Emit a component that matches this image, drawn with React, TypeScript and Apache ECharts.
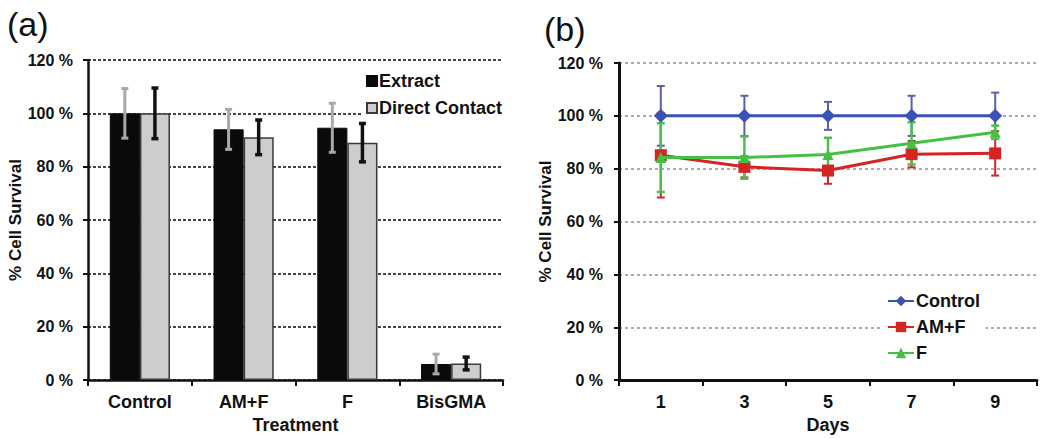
import React, { useEffect, useRef } from "react";
import * as echarts from "echarts";

// Panel (a)
const treatments = ["Control", "AM+F", "F", "BisGMA"];
const extractValues = [100, 94, 94.6, 6];
const extractErrors = [9.3, 7.5, 9.2, 3.7];
const directValues = [100, 91, 89, 6.2];
const directErrors = [9.5, 6.5, 7.2, 2.4];

// Panel (b)
const days = ["1", "3", "5", "7", "9"];
const controlValues = [100, 100, 100, 100, 100];
const controlErrors = [11.3, 7.6, 5.3, 7.6, 8.8];
const amfValues = [85.1, 80.7, 79.3, 85.5, 85.8];
const amfErrors = [16, 4, 5, 5, 8.4];
const fValues = [84.2, 84.2, 85.4, 89.6, 93.8];
const fErrors = [13, 8, 6.3, 8, 2.5];

const yTicks = [0, 20, 40, 60, 80, 100, 120];

const FONT = "Arial, 'Liberation Sans', sans-serif";

function errorSeries(
  name: string,
  xAxisIndex: number,
  yAxisIndex: number,
  values: number[],
  errors: number[],
  color: string,
  width: number,
  offsetFrac: number,
  capHalf: number
) {
  return {
    type: "custom",
    name,
    xAxisIndex,
    yAxisIndex,
    z: 3,
    silent: true,
    data: values.map((v, i) => [i, v, errors[i]]),
    renderItem: (params: any, api: any) => {
      const x = api.value(0);
      const v = api.value(1);
      const e = api.value(2);
      const band = api.size([1, 0])[0];
      const off = band * offsetFrac;
      const top = api.coord([x, v + e]);
      const bot = api.coord([x, v - e]);
      const cx = top[0] + off;
      const style = { stroke: color, lineWidth: width };
      return {
        type: "group",
        children: [
          { type: "line", shape: { x1: cx, y1: top[1], x2: cx, y2: bot[1] }, style },
          { type: "line", shape: { x1: cx - capHalf, y1: top[1], x2: cx + capHalf, y2: top[1] }, style },
          { type: "line", shape: { x1: cx - capHalf, y1: bot[1], x2: cx + capHalf, y2: bot[1] }, style },
        ],
      };
    },
  };
}

export default function App() {
  const ref = useRef<HTMLDivElement>(null);
  useEffect(() => {
    if (!ref.current) return;
    const chart = echarts.init(ref.current, null, { renderer: "svg" });

    const yAxisCommon = (gridIndex: number, gridColor: string, gridType: any, lineW: number, labelMargin: number, nameGap: number) => ({
      type: "value",
      gridIndex,
      min: 0,
      max: 120,
      interval: 20,
      name: "% Cell Survival",
      nameLocation: "middle",
      nameGap,
      nameTextStyle: { fontSize: 17, fontWeight: "bold", color: "#111", fontFamily: FONT },
      axisLine: { show: true, lineStyle: { color: "#111", width: lineW } },
      axisTick: { show: true, length: 5, lineStyle: { color: "#111", width: 2 } },
      axisLabel: {
        margin: labelMargin,
        fontSize: 16,
        fontWeight: "bold",
        color: "#111",
        fontFamily: FONT,
        formatter: (v: number) => (yTicks.includes(v) ? `${v} %` : ""),
      },
      splitLine: { show: true, lineStyle: { color: gridColor, width: 2, type: gridType } },
    });

    const xAxisCommon = (gridIndex: number, data: string[], name: string, nameGap: number, lineW: number) => ({
      type: "category",
      gridIndex,
      data,
      name,
      nameLocation: "middle",
      nameGap,
      nameTextStyle: { fontSize: 18, fontWeight: "bold", color: "#111", fontFamily: FONT },
      axisLine: { show: true, lineStyle: { color: "#111", width: lineW } },
      axisTick: { show: true, length: 6, lineStyle: { color: "#111", width: 2 } },
      axisLabel: { margin: 13, fontSize: 18, fontWeight: "bold", color: "#111", fontFamily: FONT },
      splitLine: { show: false },
    });

    const option: any = {
      animation: false,
      backgroundColor: "#ffffff",
      textStyle: { fontFamily: FONT },
      title: [
        { text: "(a)", left: 2, top: 2, textStyle: { fontSize: 34, fontWeight: "normal", color: "#111", fontFamily: FONT } },
        { text: "(b)", left: 539, top: 7, textStyle: { fontSize: 34, fontWeight: "normal", color: "#111", fontFamily: FONT } },
      ],
      grid: [
        { left: 88, top: 60, width: 415, height: 320 },
        { left: 619, top: 63, width: 418, height: 320 },
      ],
      xAxis: [xAxisCommon(0, treatments, "Treatment", 32, 2.5), xAxisCommon(1, days, "Days", 30, 3)],
      yAxis: [
        yAxisCommon(0, "#444", [3, 2], 2.5, 15, 64),
        yAxisCommon(1, "#b9a6a6", [3, 3], 3, 16, 62),
      ],
      legend: [
        {
          data: ["Extract", "Direct Contact"],
          orient: "vertical",
          left: 362,
          top: 70,
          padding: [2, 2, 2, 4],
          backgroundColor: "#ffffff",
          icon: "rect",
          itemWidth: 10,
          itemHeight: 10,
          itemGap: 9,
          textStyle: { fontSize: 18, fontWeight: "bold", color: "#111", fontFamily: FONT, padding: [0, 0, 0, -3] },
        },
        {
          data: ["Control", "AM+F", "F"],
          orient: "vertical",
          left: 883,
          top: 291,
          padding: [1, 6, 1, 4],
          backgroundColor: "#ffffff",
          itemWidth: 26,
          itemHeight: 13,
          itemGap: 8,
          textStyle: { fontSize: 18, fontWeight: "bold", color: "#111", fontFamily: FONT, padding: [0, 0, 0, -3] },
        },
      ],
      series: [
        {
          type: "bar",
          name: "Extract",
          xAxisIndex: 0,
          yAxisIndex: 0,
          data: extractValues,
          barGap: "0%",
          barCategoryGap: "42%",
          itemStyle: { color: "#0a0a0a", borderColor: "#0a0a0a", borderWidth: 1 },
          z: 2,
        },
        {
          type: "bar",
          name: "Direct Contact",
          xAxisIndex: 0,
          yAxisIndex: 0,
          data: directValues,
          barGap: "0%",
          barCategoryGap: "42%",
          itemStyle: { color: "#cdcdcd", borderColor: "#3a3a3a", borderWidth: 1.5 },
          z: 2,
        },
        errorSeries("extractErr", 0, 0, extractValues, extractErrors, "#a9a9a9", 3, -0.145, 3.5),
        errorSeries("directErr", 0, 0, directValues, directErrors, "#111111", 3.5, 0.145, 3.5),
        errorSeries("controlErr", 1, 1, controlValues, controlErrors, "#5b5fae", 2, 0, 4),
        errorSeries("amfErr", 1, 1, amfValues, amfErrors, "#cc2b2b", 2, 0, 4),
        errorSeries("fErr", 1, 1, fValues, fErrors, "#4cc04c", 2.5, 0, 4),
        {
          type: "line",
          name: "Control",
          xAxisIndex: 1,
          yAxisIndex: 1,
          data: controlValues,
          symbol: "diamond",
          symbolSize: 14,
          lineStyle: { color: "#3a52b6", width: 3 },
          itemStyle: { color: "#3a52b6" },
          z: 5,
        },
        {
          type: "line",
          name: "AM+F",
          xAxisIndex: 1,
          yAxisIndex: 1,
          data: amfValues,
          symbol: "rect",
          symbolSize: 12,
          lineStyle: { color: "#d42424", width: 3 },
          itemStyle: { color: "#d42424" },
          z: 5,
        },
        {
          type: "line",
          name: "F",
          xAxisIndex: 1,
          yAxisIndex: 1,
          data: fValues,
          symbol: "triangle",
          symbolSize: 11,
          lineStyle: { color: "#45c045", width: 3 },
          itemStyle: { color: "#45c045" },
          z: 6,
        },
      ],
    };
    chart.setOption(option);
    return () => chart.dispose();
  }, []);
  return <div ref={ref} style={{ position: "fixed", left: 0, top: 0, width: 1050, height: 439 }} />;
}
